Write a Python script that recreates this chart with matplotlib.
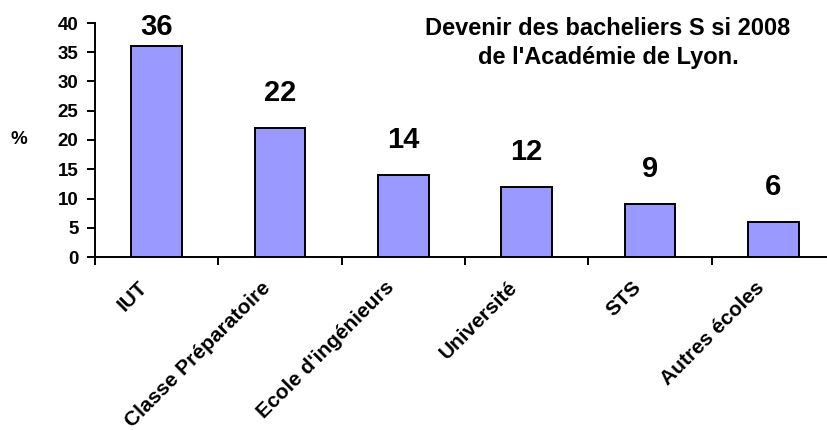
import numpy as np
import matplotlib.pyplot as plt
import matplotlib.transforms as mtransforms
from matplotlib.ticker import FixedLocator

categories = ['IUT', 'Classe Préparatoire', "Ecole d'ingénieurs", 'Université', 'STS', 'Autres écoles']
values = [36, 22, 14, 12, 9, 6]
yticks = [0, 5, 10, 15, 20, 25, 30, 35, 40]
title = "Devenir des bacheliers S si 2008\nde l'Académie de Lyon."

plt.rcParams['font.family'] = ['Liberation Sans', 'DejaVu Sans']
plt.rcParams['font.weight'] = 'bold'

fig = plt.figure(figsize=(8.28, 4.3), dpi=100)
ax = fig.add_axes([95 / 828, 173 / 430, 740 / 828, 234 / 430])

x = np.arange(len(categories))
ax.bar(x, values, width=0.41, color='#9999FF', edgecolor='black', linewidth=1.4, zorder=2)

# value labels above bars (Excel keeps them inside the plot area)
for xi, v in zip(x, values):
    ax.text(xi, min(v + 3.6, 36.9), str(v), ha='center', va='bottom',
            fontsize=21, fontweight='bold')

ax.set_xlim(-0.5, len(categories) - 0.5)
ax.set_ylim(0, 40)
ax.set_yticks(yticks)
ax.set_xticks(x)
ax.set_xticklabels(categories, rotation=45, ha='right', va='center', rotation_mode='anchor')
ax.xaxis.set_minor_locator(FixedLocator(np.arange(len(categories) + 1) - 0.5))
ax.tick_params(axis='x', which='major', length=0, pad=20, labelsize=15)
ax.tick_params(axis='x', which='minor', length=5.5, width=1.4, direction='out')
ax.tick_params(axis='y', length=5.8, width=1.4, direction='out', labelsize=13.5, pad=6)
shift = mtransforms.ScaledTranslation(-12 / 100, 0, fig.dpi_scale_trans)
for lbl in ax.get_xticklabels():
    lbl.set_transform(lbl.get_transform() + shift)
for lbl in ax.get_xticklabels() + ax.get_yticklabels():
    lbl.set_fontweight('bold')

for s in ['top', 'right']:
    ax.spines[s].set_visible(False)
ax.spines['left'].set_linewidth(1.4)
ax.spines['bottom'].set_linewidth(1.4)
ax.spines['bottom'].set_clip_on(False)

fig.text(19 / 828, 1 - 140 / 430, '%', ha='center', va='center', fontsize=13.5, fontweight='bold')
fig.text(608 / 828, 1 - 43 / 430, title, ha='center', va='center', fontsize=17,
         fontweight='bold', linespacing=1.3)

fig.savefig('out.png', dpi=100)
